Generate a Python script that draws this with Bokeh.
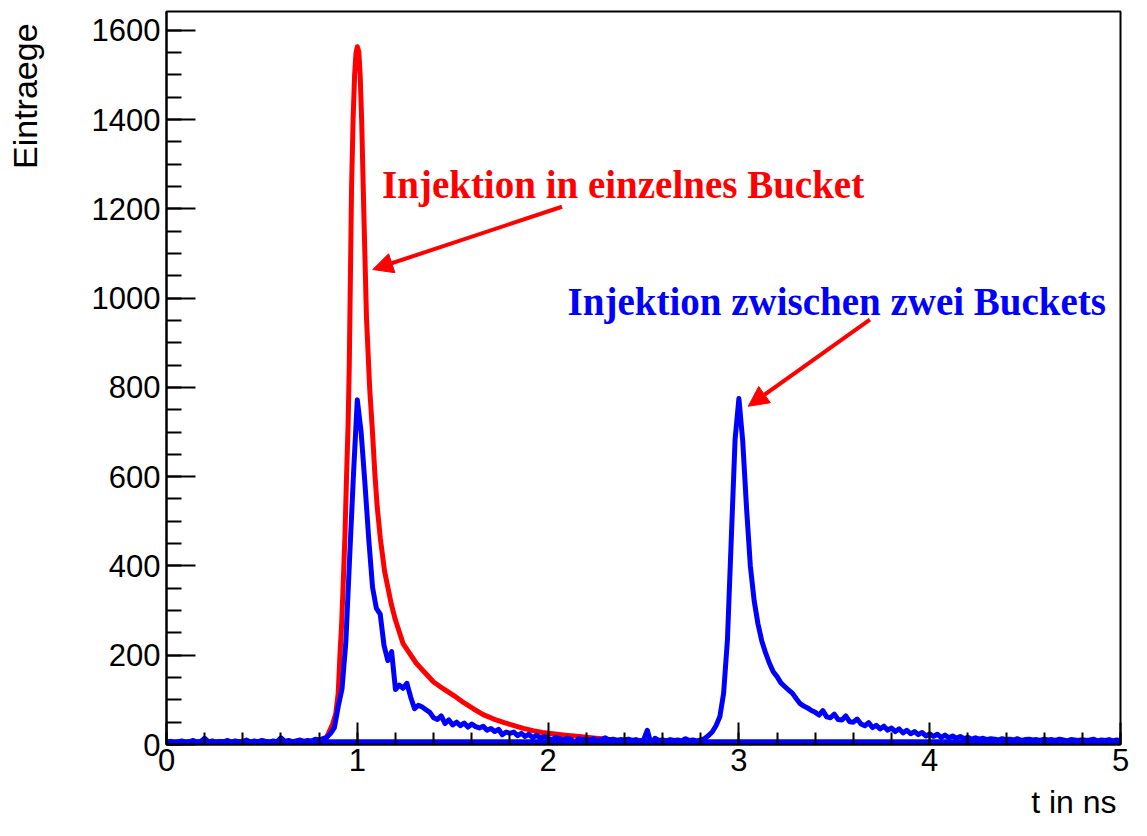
import math
from bokeh.plotting import figure
from bokeh.models import Range1d, SingleIntervalTicker, Label, Arrow, NormalHead
from bokeh.layouts import row, column
from bokeh.embed import file_html
from bokeh.resources import INLINE

# ---------------- data ----------------
# red histogram: "Injektion in einzelnes Bucket"
red_t = [0.00, 0.40, 0.76, 0.80, 0.83, 0.849, 0.87, 0.887, 0.90, 0.909, 0.918, 0.925,
         0.935, 0.943, 0.952, 0.958, 0.964, 0.970, 0.978, 0.986, 0.993, 1.000, 1.008,
         1.015, 1.023, 1.035, 1.048, 1.065, 1.080, 1.092, 1.104, 1.121, 1.143, 1.178,
         1.199, 1.24, 1.309, 1.35, 1.40, 1.45, 1.508, 1.56, 1.612, 1.66, 1.715, 1.77,
         1.818, 1.87, 1.921, 1.97, 2.025, 2.09, 2.164, 2.25, 2.35, 2.45, 2.60, 2.80,
         3.00, 3.50, 5.00]
red_v = [0, 1, 1, 3, 8, 25, 45, 69, 115, 200, 270, 347,
         464, 590, 720, 850, 1050, 1250, 1400, 1500, 1548, 1563, 1552,
         1500, 1397, 1178, 958, 797, 697, 607, 534, 461, 388, 315,
         280, 226, 182, 163, 140, 125, 109, 93, 79, 67, 57, 49,
         43, 36, 31, 27, 24, 21, 18, 14, 10, 7, 4, 2,
         1, 0, 0]

# blue histogram: "Injektion zwischen zwei Buckets" (bins of 0.02 ns, 0 ... 5 ns)
blue_v = [
    5, 7, 4, 6, 8, 5, 6, 9, 5, 7,            # 0.00
    14, 6, 8, 5, 7, 6, 9, 5, 8, 6,           # 0.20
    7, 10, 5, 8, 6, 9, 7, 5, 8, 6,           # 0.40
    15, 7, 9, 6, 8, 10, 7, 9, 8, 12,         # 0.60
    10, 13, 16, 25, 38, 85, 125, 230, 420, 605,   # 0.80
    772, 700, 585, 460, 352, 305, 292, 222, 188, 208,  # 1.00
    123, 133, 126, 137, 106, 80, 88, 84, 78, 72,  # 1.20
    60, 56, 64, 47, 55, 44, 50, 42, 48, 39,  # 1.40
    46, 40, 37, 41, 32, 36, 29, 34, 22, 28,  # 1.60
    25, 28, 20, 25, 18, 23, 15, 21, 14, 18,  # 1.80
    14, 11, 16, 13, 10, 14, 12, 3, 13, 11,   # 2.00
    12, 10, 13, 9, 11, 15, 10, 12, 9, 11,    # 2.20
    10, 12, 9, 11, 8, 10, 32, 0, 14, 9,      # 2.40
    10, 8, 11, 9, 10, 8, 13, 9, 10, 8,       # 2.60
    10, 13, 20, 28, 42, 62, 115, 235, 460, 683,   # 2.80
    775, 680, 530, 400, 322, 270, 232, 205, 182, 163,  # 3.00
    152, 138, 130, 122, 115, 103, 92, 86, 82, 76,  # 3.20
    72, 66, 76, 62, 60, 68, 56, 55, 64, 51,  # 3.40
    50, 57, 46, 42, 49, 38, 43, 35, 41, 32,  # 3.60
    37, 29, 35, 26, 32, 24, 29, 22, 27, 19,  # 3.80
    24, 18, 23, 16, 21, 15, 19, 14, 18, 13,  # 4.00
    16, 12, 15, 12, 14, 11, 13, 12, 10, 13,  # 4.20
    11, 12, 10, 13, 9, 11, 12, 10, 11, 9,    # 4.40
    12, 10, 11, 9, 12, 10, 8, 11, 10, 9,     # 4.60
    11, 9, 10, 12, 8, 10, 9, 11, 8, 10,      # 4.80
    9,                                       # 5.00
]
bin_width = 0.02
blue_t = [round(i * bin_width, 2) for i in range(len(blue_v))]
blue_floor = 6

x_lo, x_hi = 0.0, 5.0
y_lo, y_hi = 0.0, 1642.0

red_title = "Injektion in einzelnes Bucket"
blue_title = "Injektion zwischen zwei Buckets"
x_title = "t in ns"
y_title = "Eintraege"

RED = "#ff0000"
BLUE = "#0000ff"
SANS = "Liberation Sans"
SERIF = "Liberation Serif"

# ---------------- layout sizes ----------------
TOTAL_W, TOTAL_H = 1131, 820
LEFT_W = 50          # strip holding the y title
BOTTOM_H = 37        # strip holding the x title
MAIN_W = TOTAL_W - LEFT_W
MAIN_H = TOTAL_H - BOTTOM_H


def text_strip(w, h):
    f = figure(width=w, height=h, output_backend="svg", toolbar_location=None,
               x_range=Range1d(0, w), y_range=Range1d(0, h),
               x_axis_location=None, y_axis_location=None, min_border=0)
    f.outline_line_color = None
    f.background_fill_color = "white"
    f.border_fill_color = "white"
    f.grid.visible = False
    return f


# ---------------- main figure ----------------
p = figure(width=MAIN_W, height=MAIN_H, output_backend="svg", toolbar_location=None,
           x_range=Range1d(x_lo, x_hi), y_range=Range1d(y_lo, y_hi),
           min_border_left=116, min_border_right=11, min_border_top=11,
           min_border_bottom=MAIN_H - 744)
p.background_fill_color = "white"
p.border_fill_color = "white"
p.outline_line_color = "black"
p.outline_line_width = 2
p.xgrid.visible = False
p.ygrid.visible = False

p.xaxis.ticker = SingleIntervalTicker(interval=1, num_minor_ticks=5)
p.yaxis.ticker = SingleIntervalTicker(interval=200, num_minor_ticks=4)

for ax in (p.xaxis, p.yaxis):
    ax.axis_line_color = "black"
    ax.axis_line_width = 2
    ax.major_tick_line_color = "black"
    ax.major_tick_line_width = 2
    ax.minor_tick_line_color = "black"
    ax.minor_tick_line_width = 2
    ax.major_tick_out = 0
    ax.minor_tick_out = 0
    ax.major_label_text_font = SANS
    ax.major_label_text_font_size = "31px"
    ax.major_label_text_color = "black"

p.xaxis.major_tick_in = 22
p.xaxis.minor_tick_in = 12
p.yaxis.major_tick_in = 29
p.yaxis.minor_tick_in = 15
p.xaxis.major_label_standoff = 4
p.yaxis.major_label_standoff = 6

# ---------------- histograms ----------------
p.line(red_t, red_v, line_color=RED, line_width=5, line_join="round")
p.line([x_lo, x_hi], [blue_floor, blue_floor], line_color=BLUE, line_width=5)
p.line(blue_t, blue_v, line_color=BLUE, line_width=5, line_join="round")

# ---------------- annotations ----------------
p.add_layout(Label(x=1.1296, y=1206.7, text=red_title, text_color=RED,
                   text_font=SERIF, text_font_style="bold",
                   text_font_size="39px", text_baseline="bottom", text_align="left"))
p.add_layout(Label(x=2.1023, y=944.6, text=blue_title, text_color=BLUE,
                   text_font=SERIF, text_font_style="bold",
                   text_font_size="39px", text_baseline="bottom", text_align="left"))

p.add_layout(Arrow(end=NormalHead(size=20, fill_color=RED, line_color=RED, line_width=1),
                   x_start=2.0728, y_start=1204.6, x_end=1.0811, y_end=1064.0,
                   line_color=RED, line_width=4))
p.add_layout(Arrow(end=NormalHead(size=20, fill_color=RED, line_color=RED, line_width=1),
                   x_start=3.6865, y_start=951.9, x_end=3.049, y_end=757.7,
                   line_color=RED, line_width=4))

# ---------------- axis titles (in their own strips) ----------------
left_fig = text_strip(LEFT_W, MAIN_H)
left_fig.add_layout(Label(x=43.4, y=MAIN_H - 12.75, text=y_title, angle=math.pi / 2,
                          text_font=SANS, text_font_size="34px", text_color="black",
                          text_align="right", text_baseline="bottom"))

bottom_fig = text_strip(TOTAL_W, BOTTOM_H)
bottom_fig.add_layout(Label(x=1116, y=0.3, text=x_title,
                            text_font=SANS, text_font_size="32px", text_color="black",
                            text_align="right", text_baseline="bottom"))

layout = column(row(left_fig, p), bottom_fig)

open("out.html", "w").write(file_html(layout, INLINE))
